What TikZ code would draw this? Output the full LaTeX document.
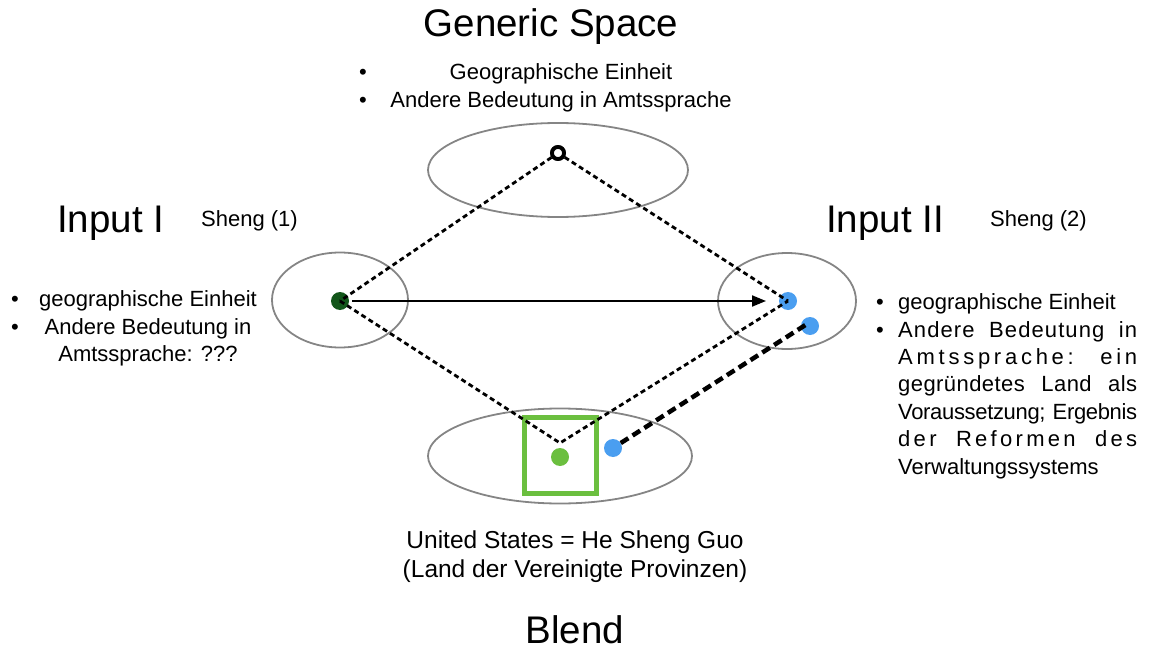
\documentclass[tikz,border=0pt]{standalone}
\usepackage{fontspec}
\setmainfont{Liberation Sans}
\usetikzlibrary{arrows.meta,shapes.geometric}
\definecolor{spacegray}{HTML}{858585}
\definecolor{darkdot}{HTML}{12561A}
\definecolor{bluedot}{HTML}{4A9EF0}
\definecolor{blendgreen}{HTML}{6BBF3F}
\newcommand{\jline}[2][0]{\makebox[239pt][s]{\addfontfeature{LetterSpace=#1}#2}}
\tikzset{
  space/.style={draw=spacegray, line width=1.8pt, ellipse, inner sep=0},
  heading/.style={font=\fontsize{38.5}{42}\selectfont, inner sep=0},
  body/.style={font=\fontsize{22}{27}\selectfont, inner sep=0},
  bodybig/.style={font=\fontsize{24.5}{29}\selectfont, inner sep=0},
  dot/.style={circle, inner sep=0, minimum size=18pt},
  ringdot/.style={circle, draw=black, fill=white, line width=3.8pt, minimum size=12pt, inner sep=0},
  link/.style={line width=2.8pt, dash pattern=on 5pt off 3.5pt},
  thicklink/.style={line width=4.5pt, dash pattern=on 9pt off 5pt},
}
\begin{document}
\begin{tikzpicture}[x=1pt,y=-1pt]
\useasboundingbox (0,0) rectangle (1173,650);

% mental spaces
\node[space, minimum width=260pt, minimum height=94pt] (generic) at (558,170) {};
\node[space, minimum width=136pt, minimum height=95pt] (input1) at (340,300) {};
\node[space, minimum width=138pt, minimum height=96pt] (input2) at (787,301) {};
\node[space, minimum width=264pt, minimum height=95pt] (blend) at (560,456) {};

% elements
\node[draw=blendgreen, line width=5pt, minimum width=72pt, minimum height=76pt, inner sep=0] (frame) at (560,455) {};
\node[dot, fill=darkdot] (g1) at (340,301) {};
\node[dot, fill=bluedot] (b1) at (788,301) {};
\node[dot, fill=bluedot] (b2) at (810,326) {};
\node[dot, fill=blendgreen] (gb) at (560,457) {};
\node[dot, fill=bluedot] (bb) at (613,448) {};
\coordinate (apex) at (560,443);
\node[ringdot] (ring) at (558,153) {};

% cross-space mappings
\draw[link] (ring) -- (g1.center);
\draw[link] (ring) -- (b1.center);
\draw[link] (g1.center) -- (apex) -- (b1.center);
\draw[thicklink] (bb) -- ([xshift=-3pt,yshift=2pt]b2.center);
\draw[line width=2pt, -{Triangle[length=14pt,width=11pt]}, shorten <=12pt, shorten >=22pt] (g1.center) -- (b1.center);
\node[ringdot] (ringtop) at (ring) {};

% generic space labels
\node[heading, anchor=base] (tgeneric) at (551,37) {Generic Space};
\node[body, anchor=base] (gbul1) at (363,80) {•};
\node[body, anchor=base] (gbul2) at (363,108) {•};
\node[body, anchor=base] (gt1) at (561,80) {Geographische Einheit};
\node[body, anchor=base] (gt2) at (561,108) {Andere Bedeutung in Amtssprache};

% input I labels
\node[heading, anchor=base west] (tinput1) at (57,232) {Input I};
\node[body, anchor=base west] (sheng1) at (201,226) {Sheng (1)};
\node[body, anchor=base] (lbul1) at (15,306) {•};
\node[body, anchor=base] (lbul2) at (15,334) {•};
\node[body, anchor=base] (lt1) at (148,306) {geographische Einheit};
\node[body, anchor=base] (lt2) at (148,334) {Andere Bedeutung in};
\node[body, anchor=base] (lt3) at (148,361) {Amtssprache: ???};

% input II labels
\node[heading, anchor=base west] (tinput2) at (826,232) {Input II};
\node[body, anchor=base west] (sheng2) at (990,226) {Sheng (2)};
\node[body, anchor=base] (rbul1) at (880,309) {•};
\node[body, anchor=base] (rbul2) at (880,337) {•};
\node[body, anchor=base west] (rt1) at (898,309) {geographische Einheit};
\node[body, anchor=base west] (rt2) at (898,337) {\jline[5]{Andere Bedeutung in}};
\node[body, anchor=base west] (rt3) at (898,364) {\jline[17]{Amtssprache: ein}};
\node[body, anchor=base west] (rt4) at (898,391) {\jline[2]{gegründetes Land als}};
\node[body, anchor=base west] (rt5) at (898,419) {\jline[-1.5]{Voraussetzung; Ergebnis}};
\node[body, anchor=base west] (rt6) at (898,446) {\jline[15]{der Reformen des}};
\node[body, anchor=base west] (rt7) at (898,474) {Verwaltungssystems};

% blend labels
\node[bodybig, anchor=base] (bt1) at (575,548) {United States = He Sheng Guo};
\node[bodybig, anchor=base] (bt2) at (575,577) {(Land der Vereinigte Provinzen)};
\node[heading, anchor=base] (tblend) at (575,643) {Blend};
\end{tikzpicture}
\end{document}
